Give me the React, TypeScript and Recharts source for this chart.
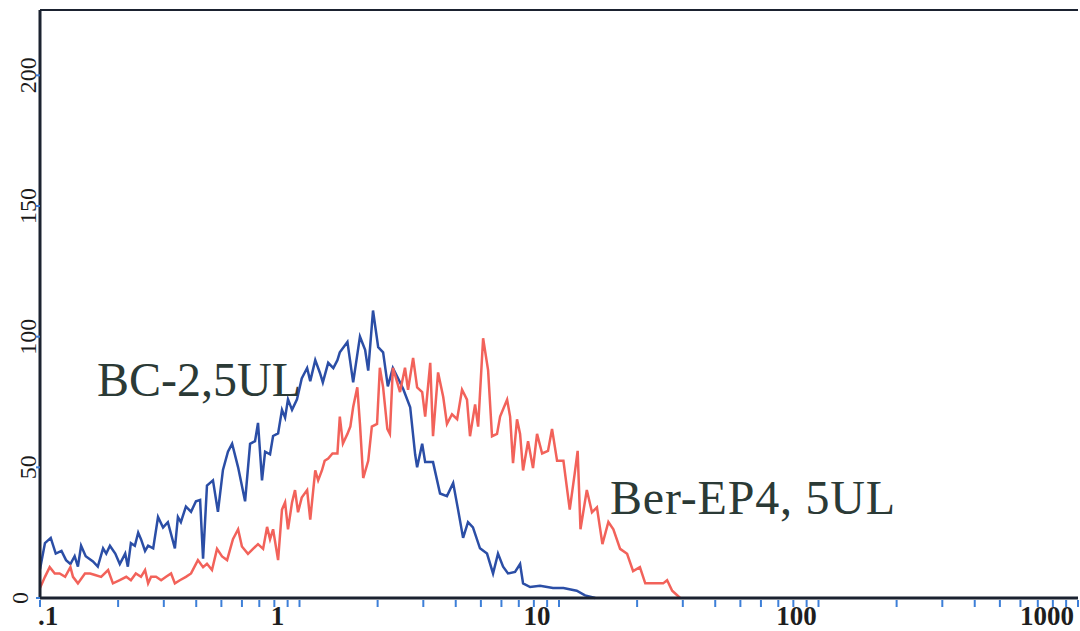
import React from 'react';
import { LineChart, Line, XAxis, YAxis, ReferenceLine } from 'recharts';

// fluorescence channel values (log axis) and event counts
const blueX = [0.1, 0.1045, 0.110, 0.115, 0.121, 0.126, 0.131, 0.136, 0.140, 0.144, 0.150, 0.160, 0.167, 0.175, 0.180, 0.186, 0.195, 0.203, 0.213, 0.218, 0.224, 0.232, 0.239, 0.245, 0.254, 0.261, 0.273, 0.285, 0.298, 0.311, 0.331, 0.340, 0.349, 0.365, 0.382, 0.399, 0.414, 0.425, 0.440, 0.464, 0.485, 0.507, 0.530, 0.550, 0.580, 0.617, 0.645, 0.674, 0.692, 0.717, 0.737, 0.770, 0.791, 0.827, 0.856, 0.880, 0.903, 0.936, 0.978, 1.02, 1.07, 1.10, 1.15, 1.20, 1.23, 1.29, 1.35, 1.40, 1.43, 1.53, 1.61, 1.71, 1.79, 1.84, 1.92, 2.01, 2.10, 2.19, 2.29, 2.40, 2.51, 2.67, 2.79, 2.84, 2.97, 3.05, 3.27, 3.48, 3.70, 3.91, 4.08, 4.27, 4.46, 4.66, 4.96, 5.28, 5.57, 5.82, 6.09, 6.36, 6.77, 7.08, 7.27, 7.74, 8.45, 9.48, 10.4, 11.7, 12.6, 13.8];
const blueCounts = [11, 21, 23, 17, 18, 14.5, 13, 16, 12, 20, 16, 14, 12, 19, 17, 20, 17, 13, 17, 12, 21, 20, 25, 22.5, 18, 20, 19, 31, 27, 29, 19, 31, 29, 35, 33, 37, 37.5, 15, 43, 45, 33, 49, 56, 59, 50, 37, 59, 60, 67, 45, 56, 55, 62, 63, 72, 69, 76, 72, 76, 84, 88, 83, 91, 86, 82.5, 90, 88, 91, 94, 98, 82.5, 100, 95, 87, 110, 96, 94, 81, 88, 84, 80, 73, 55, 50, 59, 52, 52, 40, 39, 44, 34, 23, 29, 27, 19, 17, 9.4, 17, 12, 9.4, 10, 13, 5.6, 4.2, 4.7, 3.8, 3.8, 2.8, 1, 0];

const redX = [0.1, 0.1045, 0.109, 0.114, 0.119, 0.125, 0.131, 0.134, 0.140, 0.149, 0.156, 0.163, 0.172, 0.183, 0.191, 0.203, 0.215, 0.224, 0.234, 0.245, 0.254, 0.261, 0.268, 0.280, 0.293, 0.306, 0.320, 0.331, 0.346, 0.365, 0.382, 0.406, 0.425, 0.440, 0.460, 0.481, 0.503, 0.526, 0.554, 0.580, 0.600, 0.633, 0.662, 0.692, 0.724, 0.750, 0.770, 0.791, 0.827, 0.856, 0.880, 0.903, 0.936, 0.961, 0.987, 1.02, 1.07, 1.10, 1.15, 1.18, 1.22, 1.25, 1.29, 1.34, 1.40, 1.43, 1.47, 1.53, 1.57, 1.61, 1.67, 1.71, 1.76, 1.84, 1.90, 1.99, 2.04, 2.10, 2.18, 2.23, 2.29, 2.38, 2.44, 2.55, 2.62, 2.74, 2.84, 2.97, 3.05, 3.19, 3.27, 3.42, 3.58, 3.70, 3.87, 4.05, 4.23, 4.42, 4.54, 4.75, 4.88, 5.10, 5.33, 5.52, 5.77, 5.93, 6.09, 6.31, 6.48, 6.65, 6.89, 7.08, 7.27, 7.60, 7.94, 8.23, 8.61, 9.07, 9.40, 9.83, 10.4, 11.0, 11.5, 11.8, 12.1, 12.8, 13.4, 14.0, 14.7, 15.5, 16.2, 17.2, 18.3, 19.3, 20.5, 21.5, 23.1, 25.2, 26.1, 27.3, 29.3];
const redCounts = [3.8, 8.1, 11.8, 9.4, 9.4, 8.1, 11.8, 8.1, 5.6, 9.4, 9.4, 8.8, 8.1, 10.7, 5.6, 6.8, 8.1, 6.8, 9.4, 8.1, 10.7, 5.6, 8.1, 8.1, 6.8, 8.1, 9.4, 5.6, 6.8, 8.1, 9.4, 14.5, 11.8, 13.1, 10.7, 18.8, 15.9, 14.5, 22.5, 26.3, 19.7, 16.9, 18.8, 20.6, 18.8, 27.2, 22.5, 26.3, 14.5, 33.8, 36.6, 26.3, 36.6, 41.3, 32.8, 38.4, 41.3, 30, 48.8, 45, 48.8, 52.5, 53.4, 55.3, 55.3, 69.4, 59.1, 62.8, 65.6, 73.1, 80.6, 66.6, 45.9, 52.5, 65.6, 66.6, 88.1, 80.6, 64.7, 62.8, 88.1, 82.5, 78.8, 88.1, 79.7, 91.9, 80.6, 78.8, 69.4, 90, 61.9, 86.3, 76.9, 66.6, 70.3, 68.4, 79.7, 75.9, 61.9, 74.1, 65.6, 99.4, 87.2, 61.9, 62.8, 69.4, 72.2, 75.9, 69.4, 51.6, 68.4, 62.8, 48.8, 60, 49.7, 62.8, 55.3, 56.3, 64.7, 52.5, 52.5, 33.8, 47.8, 56.3, 26.3, 41.3, 32.8, 34.7, 20.6, 29.1, 26.3, 18.8, 16.9, 10.3, 11.8, 5.6, 5.6, 5.6, 6.8, 2.8, 0];

const xTicks = [0.1, 0.2, 0.3, 0.4, 0.5, 0.6, 0.7, 0.8, 0.9, 1, 2, 3, 4, 5, 6, 7, 8, 9, 10, 20, 30, 40, 50, 60, 70, 80, 90, 100, 200, 300, 400, 500, 600, 700, 800, 900, 1000];
const decadeTicks = [0.1, 1, 10, 100, 1000];
const decadeLabels = ['.1', '1', '10', '100', '1000'];
const yTicks = [0, 50, 100, 150, 200];
const Y_MAX = 225;

const blueData = blueX.map((x, i) => ({ x, count: blueCounts[i] }));
const redData = redX.map((x, i) => ({ x, count: redCounts[i] }));

const AXIS = '#1b2230';
const TICK_BLUE = '#3d7fd8';
const FONT = '"Liberation Serif", "DejaVu Serif", serif';

const XTick = (props: any) => {
  const { x, y, payload } = props;
  const idx = decadeTicks.indexOf(payload.value);
  let label = null;
  if (idx >= 0) {
    let tx = x - 22;
    let anchor = 'middle';
    if (idx === 0) tx = x + 8;
    if (idx === decadeTicks.length - 1) { tx = x - 4; anchor = 'end'; }
    label = (
      <text x={tx} y={y + 27} textAnchor={anchor} fontFamily={FONT} fontSize={27} fontWeight="bold" fill="#1e1e1e">
        {decadeLabels[idx]}
      </text>
    );
  }
  return (
    <g>
      <line x1={x} y1={y + 2} x2={x} y2={y + 9} stroke={TICK_BLUE} strokeWidth={2} />
      {label}
    </g>
  );
};

const YTick = (props: any) => {
  const { x, y, payload } = props;
  const lx = payload.value === 0 ? x - 20 : x - 12;
  return (
    <g>
      <line x1={x - 4} y1={y} x2={x} y2={y} stroke={TICK_BLUE} strokeWidth={2} />
      <text
        x={lx}
        y={y}
        transform={`rotate(-90 ${lx} ${y})`}
        textAnchor="middle"
        dominantBaseline="central"
        fontFamily={FONT}
        fontSize={24}
        fill="#1a1a1a"
      >
        {payload.value}
      </text>
    </g>
  );
};

const noteStyle: React.CSSProperties = {
  position: 'absolute',
  fontFamily: FONT,
  fontSize: 48,
  lineHeight: '48px',
  color: '#2b3a36',
  whiteSpace: 'nowrap',
};

export default function App() {
  return (
    <div style={{ position: 'absolute', left: 0, top: 0, width: 1080, height: 631, background: '#fff' }}>
      <LineChart width={1080} height={631} margin={{ top: 10, right: 2, bottom: 0, left: 0 }}>
        <XAxis
          dataKey="x"
          type="number"
          scale="log"
          domain={[0.1, 1000]}
          ticks={xTicks}
          interval={0}
          allowDataOverflow
          height={33}
          tickSize={0}
          tickMargin={0}
          tickLine={false}
          axisLine={{ stroke: AXIS, strokeWidth: 3 }}
          tick={<XTick />}
        />
        <YAxis
          type="number"
          domain={[0, Y_MAX]}
          ticks={yTicks}
          width={40}
          tickSize={0}
          tickMargin={0}
          tickLine={false}
          axisLine={{ stroke: AXIS, strokeWidth: 3 }}
          tick={<YTick />}
        />
        <ReferenceLine y={Y_MAX} stroke={AXIS} strokeWidth={2} />
        <Line
          data={blueData}
          dataKey="count"
          type="linear"
          stroke="#2b4ea6"
          strokeWidth={2.5}
          dot={false}
          isAnimationActive={false}
        />
        <Line
          data={redData}
          dataKey="count"
          type="linear"
          stroke="#f2625a"
          strokeWidth={2.5}
          dot={false}
          isAnimationActive={false}
        />
      </LineChart>
      <div style={{ ...noteStyle, left: 97, top: 356 }}>BC-2,5UL</div>
      <div style={{ ...noteStyle, left: 610, top: 474, letterSpacing: 0.8 }}>Ber-EP4, 5UL</div>
    </div>
  );
}
